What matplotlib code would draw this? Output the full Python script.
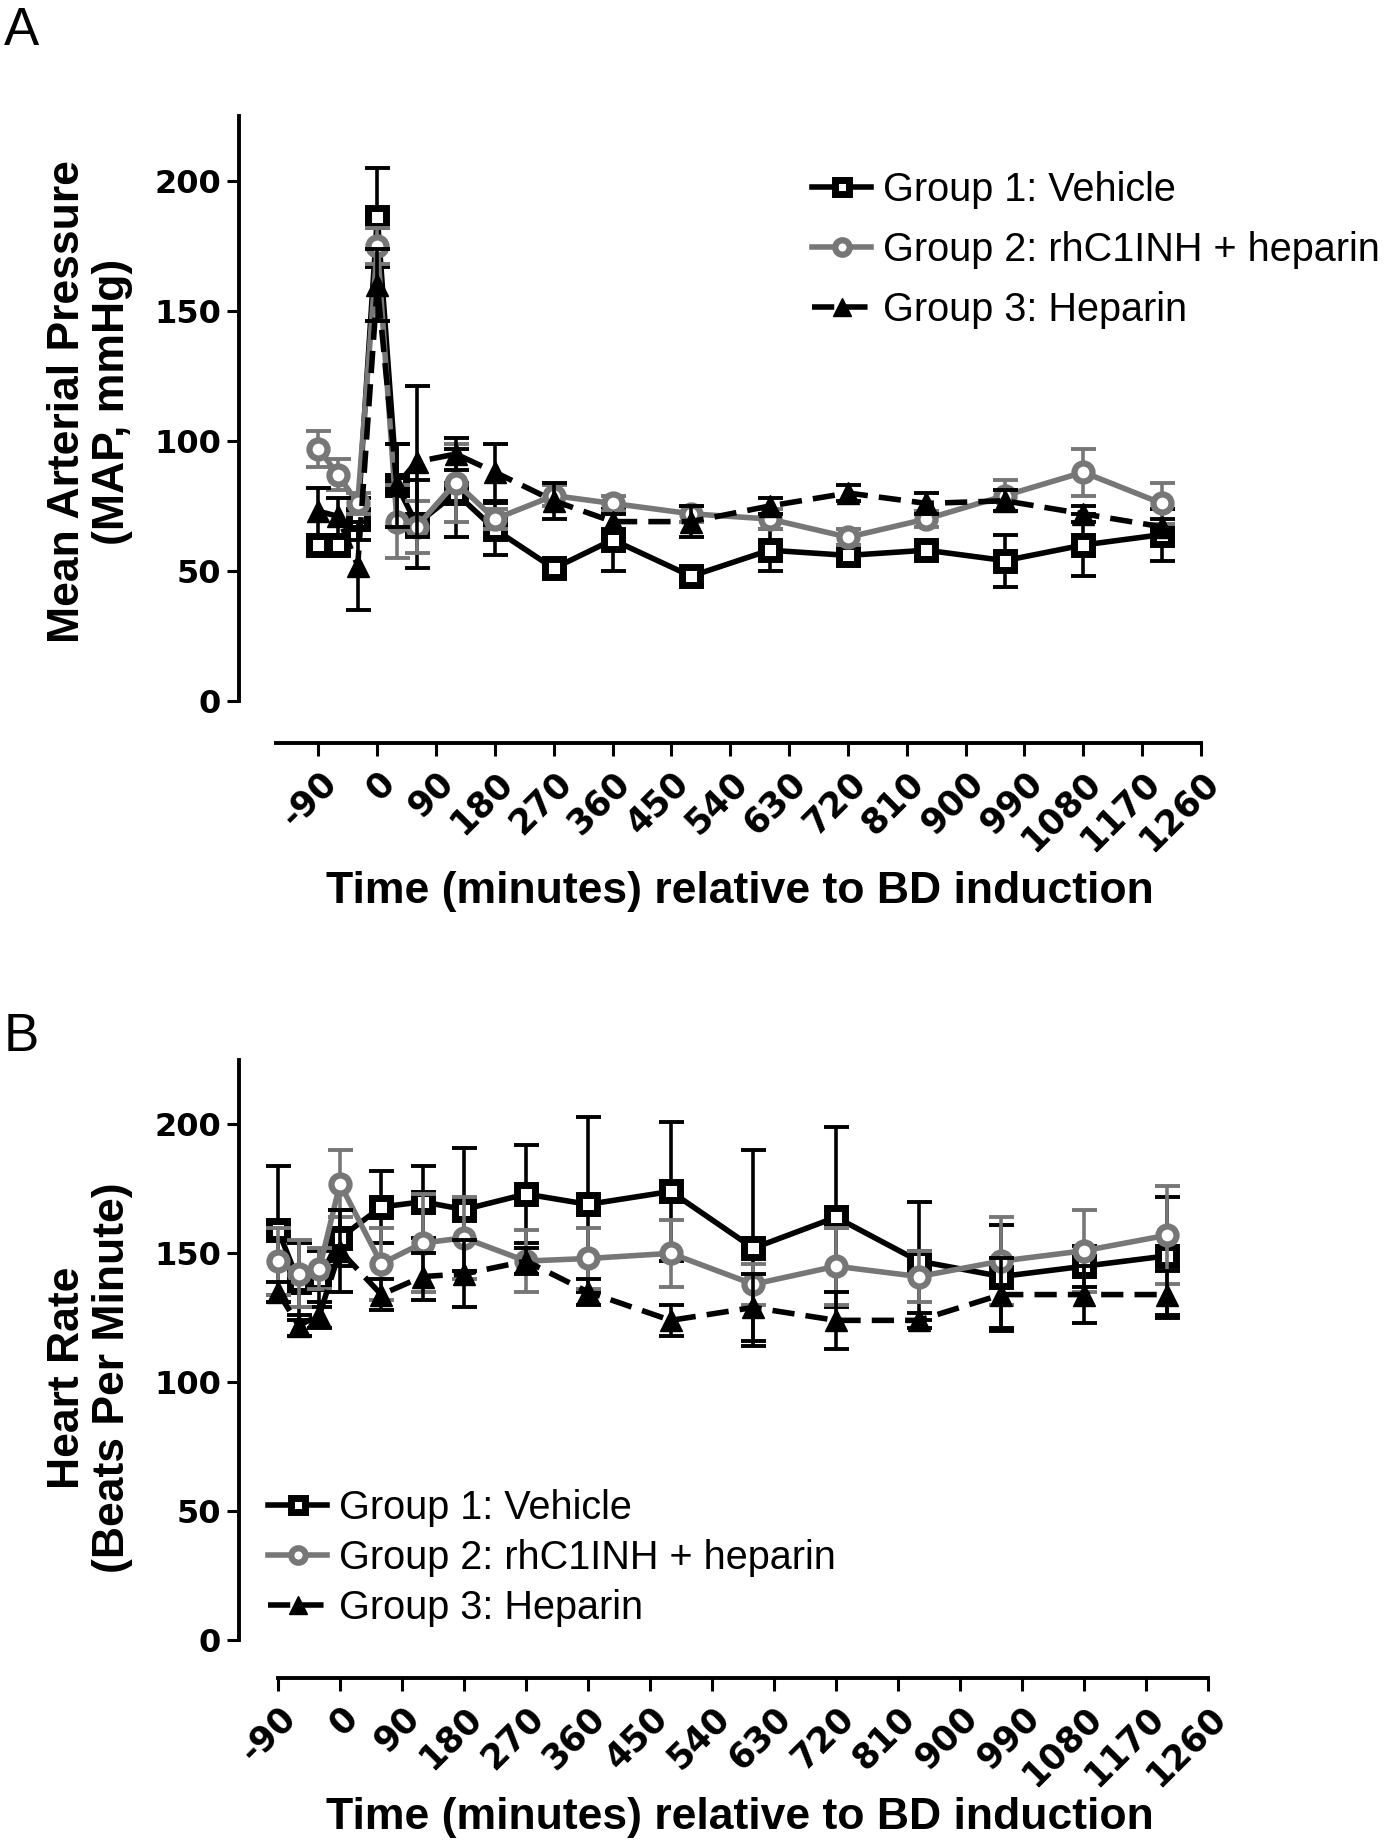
import numpy as np
import matplotlib.pyplot as plt
from matplotlib.lines import Line2D

# --- data ---
t_a = [-90, -60, -30, 0, 30, 60, 120, 180, 270, 360, 480, 600, 720, 840, 960, 1080, 1200]
map_g1 = [60, 60, 70, 186, 83, 68, 80, 66, 51, 62, 48, 58, 56, 58, 54, 60, 64]
map_g1_err = [4, 4, 8, 19, 16, 17, 17, 10, 3, 12, 3, 8, 3, 3, 10, 12, 10]
map_g2 = [97, 87, 76, 175, 69, 67, 84, 70, 79, 76, 72, 70, 63, 70, 79, 88, 76]
map_g2_err = [7, 6, 4, 7, 14, 10, 15, 4, 4, 3, 3, 4, 3, 3, 6, 9, 8]
map_g3 = [73, 71, 52, 160, 83, 92, 95, 88, 77, 69, 69, 75, 80, 76, 77, 72, 67]
map_g3_err = [9, 7, 17, 14, 16, 29, 6, 11, 7, 3, 6, 3, 3, 4, 4, 3, 3]

t_b = [-90, -60, -30, 0, 60, 120, 180, 270, 360, 480, 600, 720, 840, 960, 1080, 1200]
hr_g1 = [159, 139, 140, 156, 168, 170, 167, 173, 169, 174, 152, 164, 147, 141, 145, 149]
hr_g1_err = [25, 15, 11, 11, 14, 14, 24, 19, 34, 27, 38, 35, 23, 20, 8, 23]
hr_g2 = [147, 142, 144, 177, 146, 154, 156, 147, 148, 150, 138, 145, 141, 147, 151, 157]
hr_g2_err = [13, 13, 8, 13, 14, 19, 16, 12, 12, 13, 8, 15, 10, 17, 16, 19]
hr_g3 = [135, 122, 126, 151, 134, 141, 142, 147, 135, 124, 129, 124, 124, 134, 134, 134]
hr_g3_err = [4, 4, 5, 16, 6, 9, 13, 5, 5, 6, 13, 11, 3, 14, 11, 9]

xticks = list(range(-90, 1261, 90))
yticks = [0, 50, 100, 150, 200]
labels = ['Group 1: Vehicle', 'Group 2: rhC1INH + heparin', 'Group 3: Heparin']

GRAY = '#777777'
W, H = 1393, 1846
PX = 0.72  # points per pixel at dpi 100

styles = [
    dict(color='black', marker='s', ms=13, mew=5, mfc='white', mec='black', ls='-'),
    dict(color=GRAY, marker='o', ms=13, mew=4.5, mfc='white', mec=GRAY, ls='-'),
    dict(color='black', marker='^', ms=16, mew=1, mfc='black', mec='black', ls=(0, (4, 2))),
]

tick_font = {'family': 'DejaVu Sans', 'weight': 'bold', 'size': 23}
xtick_font = {'family': 'DejaVu Sans', 'weight': 'bold', 'size': 25}


def rect(x0, x1, ytop, ybot):
    return [x0 / W, 1 - ybot / H, (x1 - x0) / W, (ybot - ytop) / H]


def draw_panel(ax, t, series, errs, xlim, left_off, bottom_off):
    handles = []
    for i, (y, e) in enumerate(zip(series, errs)):
        st = styles[i]
        eb = ax.errorbar(t, y, yerr=e, fmt='none', ecolor=st['color'], elinewidth=2.6,
                         capsize=9, capthick=2.8, zorder=2 + i)
        for art in eb.get_children():
            art.set_clip_on(False)
        ln, = ax.plot(t, y, color=st['color'], lw=4, ls=st['ls'], marker=st['marker'],
                      ms=st['ms'], mew=st['mew'], mfc=st['mfc'], mec=st['mec'],
                      zorder=3 + i, clip_on=False)
        handles.append(ln)
    ax.set_xlim(*xlim)
    ax.set_ylim(0, 225)
    for s in ['top', 'right']:
        ax.spines[s].set_visible(False)
    ax.spines['left'].set_position(('outward', left_off * PX))
    ax.spines['bottom'].set_position(('outward', bottom_off * PX))
    for s in ['left', 'bottom']:
        ax.spines[s].set_linewidth(2.8)
    ax.set_xticks(xticks)
    ax.set_yticks(yticks)
    ax.tick_params(width=2.2, length=9, direction='out', pad=4)
    ax.tick_params(axis='x', pad=7)
    ax.set_yticklabels([str(v) for v in yticks], fontdict=tick_font)
    ax.set_xticklabels([str(v) for v in xticks], fontdict=xtick_font,
                       rotation=45, ha='right', rotation_mode='anchor')
    ax.patch.set_visible(False)
    return handles


fig = plt.figure(figsize=(13.93, 18.46), dpi=100)

axA = fig.add_axes(rect(276, 1201, 116, 701))
hA = draw_panel(axA, t_a, [map_g1, map_g2, map_g3], [map_g1_err, map_g2_err, map_g3_err],
                (-155, 1260), 37, 42)
axB = fig.add_axes(rect(278, 1208, 1060, 1640))
hB = draw_panel(axB, t_b, [hr_g1, hr_g2, hr_g3], [hr_g1_err, hr_g2_err, hr_g3_err],
                (-90, 1260), 39, 38)

lab_font = dict(family='Liberation Sans', weight='bold', size=32)
fig.text(90 / W, 1 - 402 / H, 'Mean Arterial Pressure\n(MAP, mmHg)', rotation=90,
         ha='center', va='center', multialignment='center', linespacing=1.1, **lab_font)
fig.text(90 / W, 1 - 1378 / H, 'Heart Rate\n(Beats Per Minute)', rotation=90,
         ha='center', va='center', multialignment='center', linespacing=1.1, **lab_font)
fig.text(740 / W, 1 - 891 / H, 'Time (minutes) relative to BD induction',
         ha='center', va='center', **lab_font)
fig.text(740 / W, 1 - 1817 / H, 'Time (minutes) relative to BD induction',
         ha='center', va='center', **lab_font)

fig.text(4 / W, 1 - 6 / H, 'A', ha='left', va='top', family='Liberation Sans', size=38)
fig.text(4 / W, 1 - 1012 / H, 'B', ha='left', va='top', family='Liberation Sans', size=38)

leg_font = dict(family='Liberation Sans', size=28.5)
legA = fig.legend(hA, labels, loc='center left', bbox_to_anchor=(812 / W, 1 - 250 / H),
                  frameon=False, prop=leg_font, handlelength=1.5, handletextpad=0.3,
                  labelspacing=0.55, borderpad=0, borderaxespad=0, markerscale=0.8)
legB = fig.legend(hB, labels, loc='center left', bbox_to_anchor=(268 / W, 1 - 1558 / H),
                  frameon=False, prop=leg_font, handlelength=1.5, handletextpad=0.3,
                  labelspacing=0.3, borderpad=0, borderaxespad=0, markerscale=0.8)

fig.savefig('out.png', dpi=100)
